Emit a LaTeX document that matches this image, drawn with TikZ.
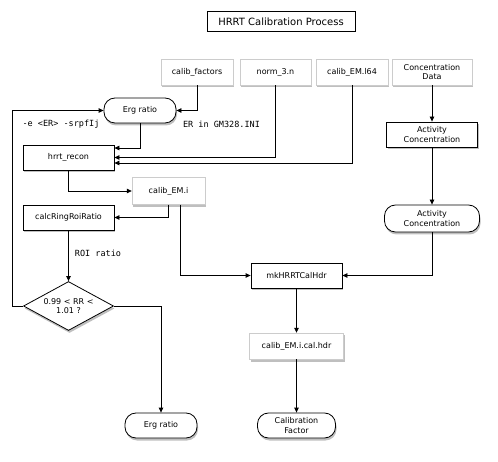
\documentclass[tikz,border=0pt]{standalone}
\usepackage{fontspec}
\setmainfont{DejaVu Sans}
\setmonofont{DejaVu Sans Mono}
\usetikzlibrary{shapes.geometric,shadows,arrows.meta}
\tikzset{
  box/.style={rectangle, fill=white, font=\fontsize{8}{9.5}\selectfont, align=center, inner sep=1pt,
    drop shadow={opacity=0.5, shadow xshift=1pt, shadow yshift=-2.5pt}},
  filebox/.style={box, draw=black!20, line width=0.4pt},
  procbox/.style={box, draw=black, line width=0.8pt},
  termpill/.style={box, draw=black, line width=0.8pt, rounded corners=11pt},
  decision/.style={diamond, draw=black, fill=white, line width=0.8pt, aspect=2, inner sep=0pt,
    font=\fontsize{8}{9.5}\selectfont, align=center,
    drop shadow={opacity=0.5, shadow xshift=1pt, shadow yshift=-2.5pt}},
  lbl/.style={font=\ttfamily\fontsize{8.5}{10}\selectfont, inner sep=0pt},
  arr/.style={line width=0.8pt, -{Triangle[length=5pt,width=4.5pt]}}
}
\begin{document}
\begin{tikzpicture}[x=1pt,y=-1pt]
  \useasboundingbox (0,0) rectangle (498,462);

  % Draw the title
  \node[draw=black, line width=0.6pt, minimum width=148, minimum height=20,
        font=\fontsize{10}{12}\selectfont] (title) at (281,21.5) {HRRT Calibration Process};

  % Draw the input files
  \node[filebox, minimum width=72, minimum height=26] (factors) at (197,72) {calib\_factors};
  \node[filebox, minimum width=71, minimum height=26] (norm) at (275.5,72) {norm\_3.n};
  \node[filebox, minimum width=72, minimum height=26] (lmfile) at (352,72) {calib\_EM.l64};
  \node[filebox, minimum width=80, minimum height=26] (concdata) at (432,72) {Concentration\\Data};

  % Draw the left column
  \node[termpill, minimum width=72, minimum height=25] (ergin) at (140,110.5) {Erg ratio};
  \node[procbox, minimum width=91, minimum height=25] (recon) at (68.5,157.5) {hrrt\_recon};
  \node[filebox, minimum width=73, minimum height=27] (image) at (168.5,191) {calib\_EM.i};
  \node[procbox, minimum width=91, minimum height=25] (roiratio) at (68.5,217.5) {calcRingRoiRatio};
  \node[decision, minimum width=90, minimum height=49] (check) at (68.5,306) {0.99 < RR <\\1.01 ?};
  \node[termpill, minimum width=72, minimum height=25] (ergout) at (161,425.5) {Erg ratio};

  % Draw the right column
  \node[procbox, minimum width=91, minimum height=25] (actbox) at (432,134.5) {Activity\\Concentration};
  \node[termpill, minimum width=95, minimum height=27] (actpill) at (432,218.5) {Activity\\Concentration};
  \node[procbox, minimum width=91, minimum height=25] (mkhdr) at (296.5,275.5) {mkHRRTCalHdr};
  \node[filebox, minimum width=94, minimum height=26] (calhdr) at (296.5,346) {calib\_EM.i.cal.hdr};
  \node[termpill, minimum width=78, minimum height=25] (calfactor) at (296.5,425.5) {Calibration\\Factor};

  % Draw the connectors
  \draw[arr] (factors.south) |- (ergin.east);
  \draw[arr] (check.west) -- ++(-11,0) |- (ergin.west);
  \draw[arr] (ergin.south) |- ([yshift=9.5pt]recon.east);
  \draw[arr] (norm.south) |- (recon.east);
  \draw[arr] (lmfile.south) |- ([yshift=-5.5pt]recon.east);
  \draw[arr] (recon.south) |- (image.west);
  \draw[arr] (image.south) |- (roiratio.east);
  \draw[arr] ([xshift=11.5pt]image.south) |- (mkhdr.west);
  \draw[arr] (roiratio.south) -- (check.north);
  \draw[arr] (check.east) -| (ergout.north);
  \draw[arr] (concdata.south) -- (actbox.north);
  \draw[arr] (actbox.south) -- (actpill.north);
  \draw[arr] (actpill.south) |- (mkhdr.east);
  \draw[arr] (mkhdr.south) -- (calhdr.north);
  \draw[arr] (calhdr.south) -- (calfactor.north);

  % Draw the labels on the connectors
  \node[lbl] (optlbl) at (61,124) {-e <ER> -srpfIj};
  \node[lbl] (inilbl) at (221.5,124) {ER in GM328.INI};
  \node[lbl] (roilbl) at (98,253) {ROI ratio};
\end{tikzpicture}
\end{document}
